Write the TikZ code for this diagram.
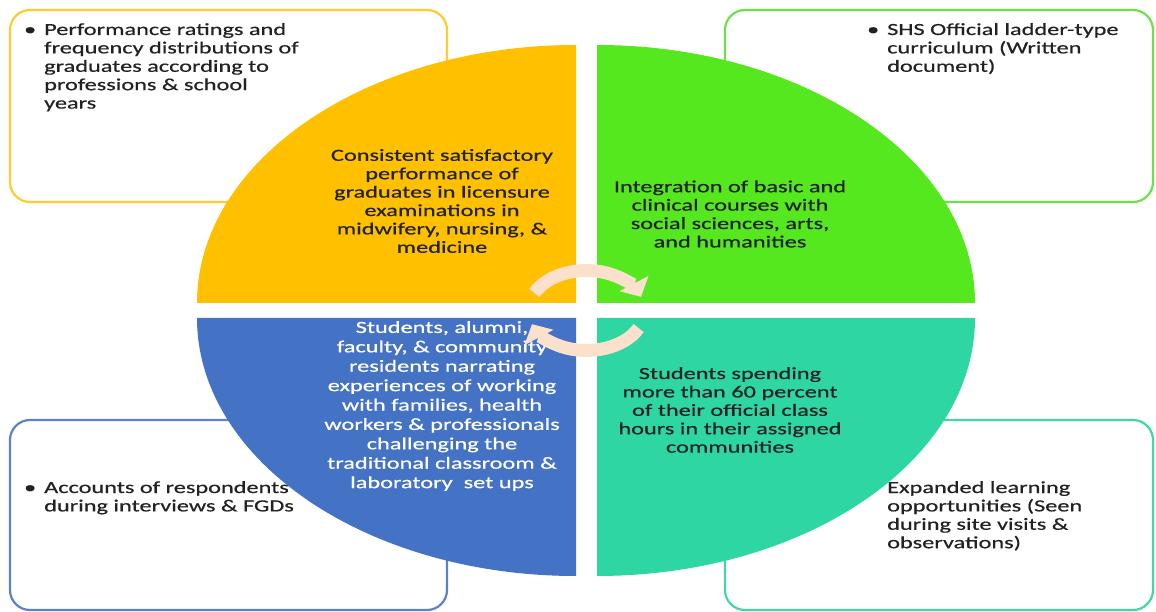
\documentclass[tikz,border=0pt]{standalone}
\usepackage{fontspec}
\setmainfont{Carlito}[FakeStretch=1.43, FakeBold=0.6]
\usepackage{tikz}
\usetikzlibrary{arrows.meta, positioning, calc}
\definecolor{goldq}{HTML}{FFC000}
\definecolor{goldline}{HTML}{FFCB2E}
\definecolor{limeq}{HTML}{55E81E}
\definecolor{limeline}{HTML}{6FE04C}
\definecolor{blueq}{HTML}{4472C4}
\definecolor{blueline}{HTML}{5A82C8}
\definecolor{tealq}{HTML}{2ED6A3}
\definecolor{tealline}{HTML}{3FD6AA}
\definecolor{peach}{HTML}{FBE0CB}
\definecolor{inkq}{HTML}{222222}

\begin{document}
\begin{tikzpicture}[x=1pt, y=1pt,
  srcbox/.style={draw, line width=2.2pt, rounded corners=20pt, minimum width=437pt, minimum height=192pt, inner sep=0pt},
  srctext/.style={align=left, inner sep=0pt, text=inkq, font=\fontsize{17pt}{18.4pt}\selectfont},
  quadtext/.style={align=center, inner sep=0pt, text=inkq, font=\fontsize{17pt}{18.4pt}\selectfont},
  cyclearrow/.style={line width=13pt, peach, -{Triangle[length=15pt, width=32pt]}}
]
\useasboundingbox (0,0) rectangle (1156,611);
\node[srcbox, draw=goldline] (boxTL) at (228.5,505) {};
\node[srcbox, draw=limeline, minimum width=428pt] (boxTR) at (939,505) {};
\node[srcbox, draw=blueline, minimum height=190pt] (boxBL) at (228.5,96) {};
\node[srcbox, draw=tealline, minimum width=428pt, minimum height=190pt] (boxBR) at (939,96) {};
\fill[goldq] (576,308) -- (197,308) arc[start angle=180, end angle=90, x radius=379pt, y radius=258pt] -- cycle;
\fill[limeq] (597,308) -- (597,566) arc[start angle=90, end angle=0, x radius=378pt, y radius=258pt] -- cycle;
\fill[blueq] (576,293) -- (197,293) arc[start angle=180, end angle=270, x radius=379pt, y radius=258pt] -- cycle;
\fill[tealq] (597,293) -- (975,293) arc[start angle=0, end angle=-90, x radius=378pt, y radius=258pt] -- cycle;
\node[srctext, anchor=base west] (srcTL) at (44,502.4) {\llap{\textbullet\hspace{8pt}}Performance ratings and\\frequency distributions of\\graduates according to\\professions \& school\\years};
\node[srctext, anchor=base west] (srcTR) at (887,539.2) {\llap{\textbullet\hspace{8pt}}SHS Official ladder-type\\curriculum (Written\\document)};
\node[srctext, anchor=base west] (srcBL) at (44,99.6) {\llap{\textbullet\hspace{8pt}}Accounts of respondents\\during interviews \& FGDs};
\node[srctext, anchor=base west] (srcBR) at (887,62.8) {Expanded learning\\opportunities (Seen\\during site visits \&\\observations)};
\node[quadtext] (qGrad) at (442,410) {Consistent satisfactory\\performance of\\graduates in licensure\\examinations in\\midwifery, nursing, \&\\medicine};
\node[quadtext] (qInteg) at (730,397) {Integration of basic and\\clinical courses with\\social sciences, arts,\\and humanities};
\node[quadtext, text=white, font=\fontsize{17pt}{19.4pt}\selectfont] (qVoice) at (442,205) {Students, alumni,\\faculty, \& community\\residents narrating\\experiences of working\\with families, health\\workers \& professionals\\challenging the\\traditional classroom \&\\laboratory\ \ set ups};
\node[quadtext] (qComm) at (730,201) {Students spending\\more than 60 percent\\of their official class\\hours in their assigned\\communities};
\coordinate (hub) at (586.5,300.5);
\draw[cyclearrow] ($(hub)+(154:58 and 40)$) arc[start angle=154, end angle=20, x radius=58pt, y radius=40pt];
\draw[cyclearrow] ($(hub)+(-26:58 and 40)$) arc[start angle=-26, end angle=-160, x radius=58pt, y radius=40pt];
\end{tikzpicture}
\end{document}
